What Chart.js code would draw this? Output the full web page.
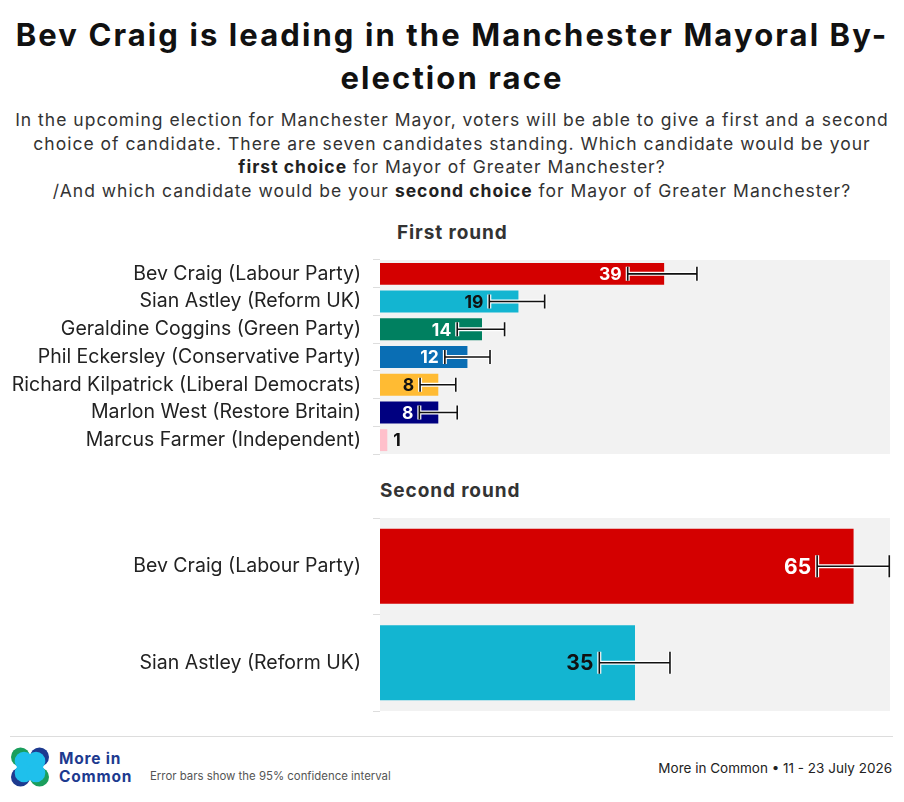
<!DOCTYPE html>
<html>
<head>
<meta charset="utf-8">
<script src="https://cdn.jsdelivr.net/npm/chart.js@4/dist/chart.umd.min.js"></script>
<style>
  body { margin: 0; background: #fff; font-family: Inter, "Noto Sans", sans-serif; color: #222; }
  #page { position: relative; width: 904px; height: 802px; overflow: hidden; }
  .abs { position: absolute; }
  #title { left: 0; top: 13px; width: 904px; text-align: center; font-weight: 700; font-size: 31px; line-height: 43px; color: #111; letter-spacing: 2.1px; }
  #subtitle { left: 0; top: 108px; width: 904px; text-align: center; font-size: 17.5px; line-height: 23.7px; color: #333; letter-spacing: 1px; }
  #subtitle b { font-weight: 700; color: #222; }
  .section { font-weight: 700; font-size: 19px; color: #333; letter-spacing: 0.9px; }
  #rule { left: 10px; top: 736px; width: 883px; height: 1px; background: #ddd; }
  #brand { left: 59px; top: 750px; font-weight: 700; font-size: 15.5px; line-height: 17.5px; color: #1d3a8f; letter-spacing: 0.8px; }
  #note { left: 150px; top: 769px; font-size: 11.4px; color: #555; }
  #source { right: 12px; top: 760px; font-size: 13.5px; color: #222; }
</style>
</head>
<body>
<div id="page">
  <div id="title" class="abs">Bev Craig is leading in the Manchester Mayoral By-<br>election race</div>
  <div id="subtitle" class="abs">In the upcoming election for Manchester Mayor, voters will be able to give a first and a second<br>choice of candidate. There are seven candidates standing. Which candidate would be your<br><b>first choice</b> for Mayor of Greater Manchester?<br>/And which candidate would be your <b>second choice</b> for Mayor of Greater Manchester?</div>
  <div class="abs section" style="left:397px; top:221px;">First round</div>
  <div class="abs" style="left:0; top:258px; width:904px; height:198px;"><canvas id="firstChart"></canvas></div>
  <div class="abs section" style="left:380px; top:479px;">Second round</div>
  <div class="abs" style="left:0; top:516px; width:904px; height:197px;"><canvas id="secondChart"></canvas></div>
  <div id="rule" class="abs"></div>
  <svg class="abs" style="left:11px; top:747px;" width="38" height="40" viewBox="0 0 38 40">
    <circle cx="9.5" cy="10" r="9.5" fill="#1a9e5c"/>
    <circle cx="28.5" cy="10" r="9.5" fill="#1d3a8f"/>
    <circle cx="9.5" cy="30" r="9.5" fill="#1d3a8f"/>
    <circle cx="28.5" cy="30" r="9.5" fill="#1a9e5c"/>
    <circle cx="13" cy="14" r="9.3" fill="#1fc0ec"/>
    <circle cx="25" cy="14" r="9.3" fill="#1fc0ec"/>
    <circle cx="13" cy="26" r="9.3" fill="#1fc0ec"/>
    <circle cx="25" cy="26" r="9.3" fill="#1fc0ec"/>
  </svg>
  <div id="brand" class="abs">More in<br>Common</div>
  <div id="note" class="abs">Error bars show the 95% confidence interval</div>
  <div id="source" class="abs">More in Common • 11 - 23 July 2026</div>
</div>
<script>
// First round
const firstCandidates = [
  'Bev Craig (Labour Party)',
  'Sian Astley (Reform UK)',
  'Geraldine Coggins (Green Party)',
  'Phil Eckersley (Conservative Party)',
  'Richard Kilpatrick (Liberal Democrats)',
  'Marlon West (Restore Britain)',
  'Marcus Farmer (Independent)'
];
const firstValues = [39, 19, 14, 12, 8, 8, 1];
const firstLow = [34, 15, 10.6, 8.9, 5.5, 5.4, null];
const firstHigh = [43.5, 22.6, 17.1, 15.1, 10.4, 10.6, null];

// Second round
const secondCandidates = ['Bev Craig (Labour Party)', 'Sian Astley (Reform UK)'];
const secondValues = [65, 35];
const secondLow = [60, 30.1];
const secondHigh = [69.9, 39.8];

const xMax = 70;

// Colors
const firstColors = ['#d40000', '#13b5d1', '#008060', '#0a6eb4', '#ffbb33', '#000080', '#ffc0cb'];
const firstLabelColors = ['#fff', '#111', '#fff', '#fff', '#111', '#fff', '#111'];
const secondColors = ['#d40000', '#13b5d1'];
const secondLabelColors = ['#fff', '#111'];

const plotBackground = {
  id: 'plotBackground',
  beforeDraw(chart) {
    const { ctx, chartArea: a } = chart;
    ctx.save();
    ctx.fillStyle = '#f2f2f2';
    ctx.fillRect(a.left, a.top, a.right - a.left, a.bottom - a.top);
    ctx.restore();
  }
};

// Error bars with white halo, then the value label left of the lower cap
const errorBarsAndLabels = {
  id: 'errorBarsAndLabels',
  afterDatasetsDraw(chart, args, opts) {
    const { ctx } = chart;
    const x = chart.scales.x;
    const meta = chart.getDatasetMeta(0);
    meta.data.forEach((bar, i) => {
      const lo = opts.low[i], hi = opts.high[i];
      const y = bar.y;
      ctx.save();
      let labelX, align;
      if (lo != null) {
        const x1 = x.getPixelForValue(lo), x2 = x.getPixelForValue(hi);
        const h = opts.cap / 2;
        [['#fff', 4], ['#111', 1.6]].forEach(([col, w]) => {
          ctx.strokeStyle = col;
          ctx.lineWidth = w;
          ctx.beginPath();
          ctx.moveTo(x1, y); ctx.lineTo(x2, y);
          ctx.moveTo(x1, y - h); ctx.lineTo(x1, y + h);
          ctx.moveTo(x2, y - h); ctx.lineTo(x2, y + h);
          ctx.stroke();
        });
        labelX = x1 - 6;
        align = 'right';
      } else {
        labelX = bar.x + 6;
        align = 'left';
      }
      ctx.fillStyle = lo != null ? opts.colors[i] : '#111';
      ctx.font = `700 ${opts.fontSize}px Inter, sans-serif`;
      ctx.textAlign = align;
      ctx.textBaseline = 'middle';
      ctx.fillText(String(chart.data.datasets[0].data[i]), labelX, y + 1);
      ctx.restore();
    });
  }
};

function makeChart(id, labels, values, colors, low, high, labelColors, barPct, cap, fontSize) {
  return new Chart(document.getElementById(id), {
    type: 'bar',
    data: {
      labels: labels,
      datasets: [{
        data: values,
        backgroundColor: colors,
        barPercentage: barPct,
        categoryPercentage: 1
      }]
    },
    options: {
      indexAxis: 'y',
      responsive: true,
      maintainAspectRatio: false,
      animation: false,
      layout: { padding: { left: 0, right: 14, top: 2, bottom: 2 } },
      scales: {
        x: { display: false, min: 0, max: xMax },
        y: {
          afterFit: s => { s.width = 380; s.paddingTop = 0; s.paddingBottom = 0; },
          border: { display: false },
          grid: { drawOnChartArea: false, drawTicks: true, tickLength: 7, color: '#ddd' },
          ticks: { padding: 12, color: '#222', font: { family: 'Inter, sans-serif', size: 19.5 } }
        }
      },
      plugins: {
        legend: { display: false },
        tooltip: { enabled: false },
        errorBarsAndLabels: { low: low, high: high, colors: labelColors, cap: cap, fontSize: fontSize }
      }
    },
    plugins: [plotBackground, errorBarsAndLabels]
  });
}

makeChart('firstChart', firstCandidates, firstValues, firstColors, firstLow, firstHigh, firstLabelColors, 0.79, 14, 17.5);
makeChart('secondChart', secondCandidates, secondValues, secondColors, secondLow, secondHigh, secondLabelColors, 0.777, 22, 21);
</script>
</body>
</html>
